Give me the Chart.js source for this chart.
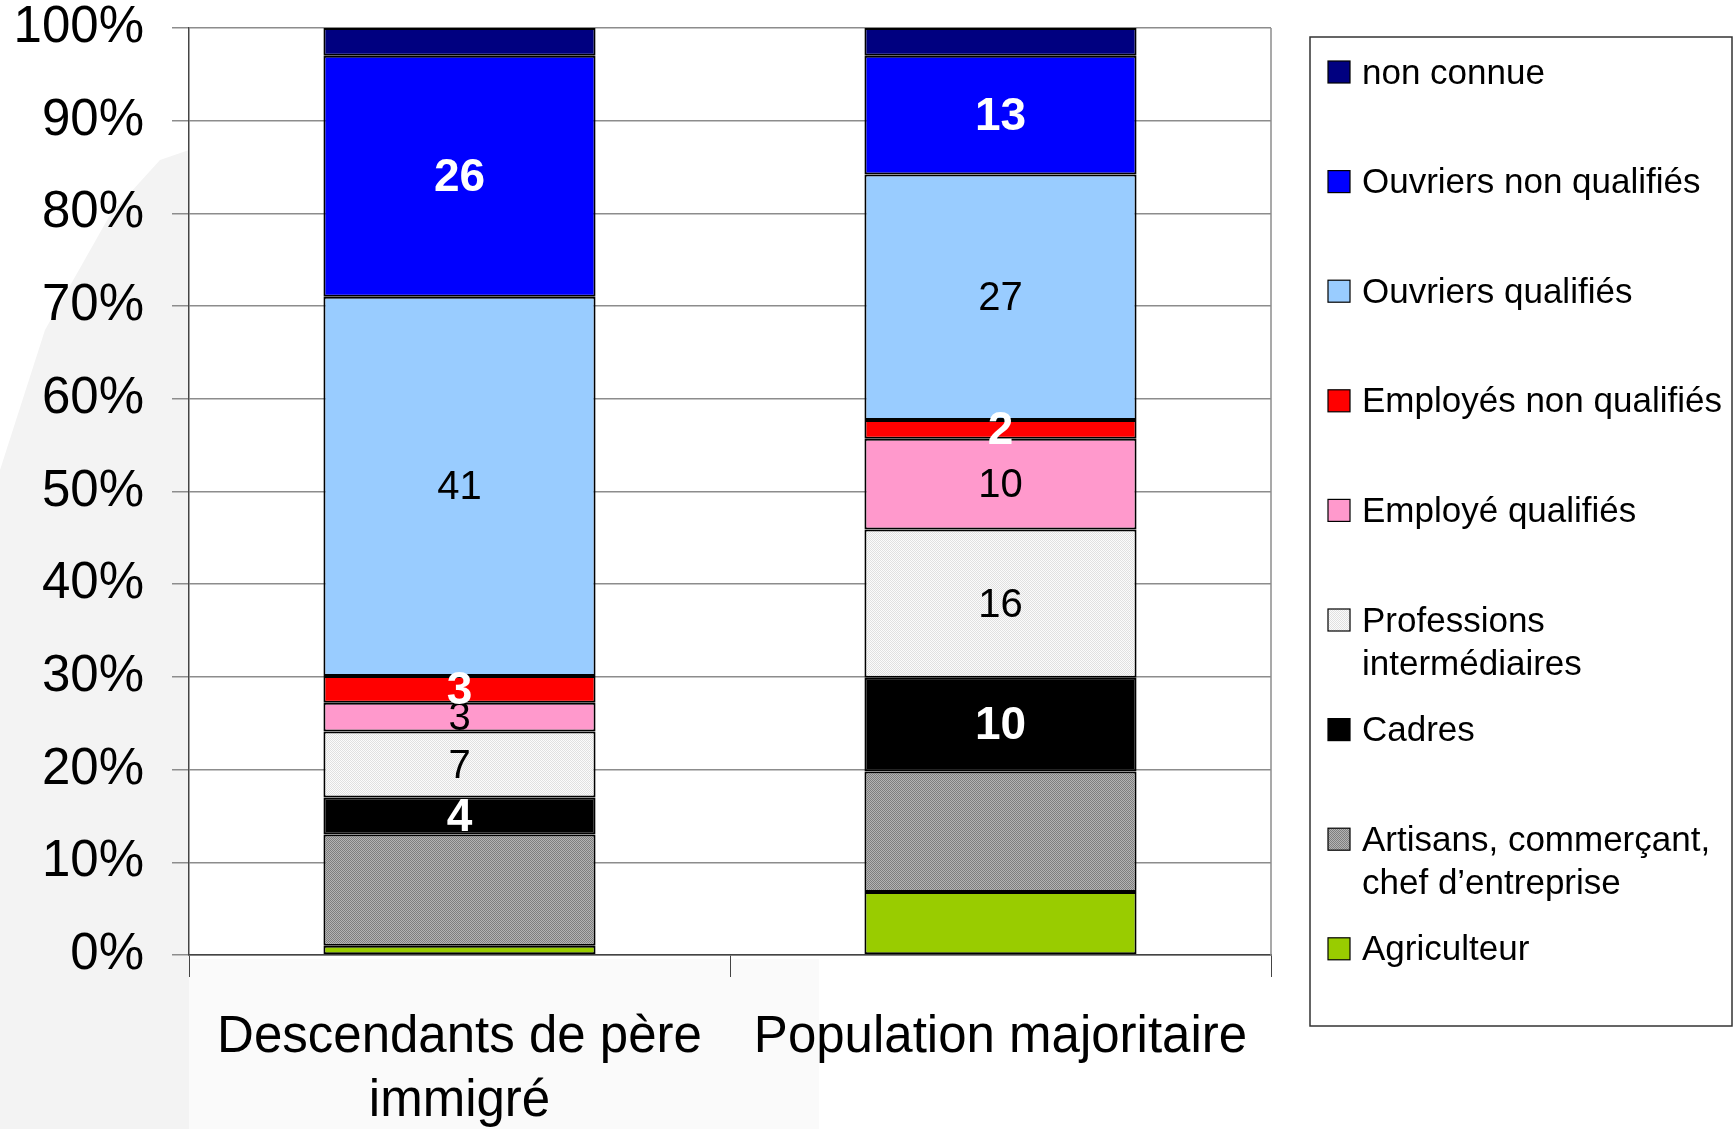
<!DOCTYPE html>
<html lang="fr">
<head>
<meta charset="utf-8">
<title>Catégorie socioprofessionnelle</title>
<script src="https://cdn.jsdelivr.net/npm/chart.js@4.4.1/dist/chart.umd.min.js"></script>
<style>
    html, body { margin: 0; padding: 0; background: #fff; }
    #wrap { position: relative; width: 1736px; height: 1129px; }
</style>
</head>
<body>
<div id="wrap"><canvas id="chart" width="1736" height="1129"></canvas></div>
<script>
// categories on the x axis
const categories = [['Descendants de père', 'immigré'], 'Population majoritaire'];

// series, bottom of the stack first
const seriesNames = [
    'Agriculteur',
    ['Artisans, commerçant,', 'chef d’entreprise'],
    'Cadres',
    ['Professions', 'intermédiaires'],
    'Employé qualifiés',
    'Employés non qualifiés',
    'Ouvriers qualifiés',
    'Ouvriers non qualifiés',
    'non connue'
];

// shares in %, [Descendants de père immigré, Population majoritaire]
const agriculteur = [1.0, 6.8];
const artisans = [12.0, 13.0];
const cadres = [4.0, 10.1];
const professionsInter = [7.1, 16.0];
const employesQualifies = [3.1, 9.8];
const employesNonQualifies = [2.9, 2.0];
const ouvriersQualifies = [40.9, 26.5];
const ouvriersNonQualifies = [26.0, 12.8];
const nonConnue = [3.0, 3.0];

const yTickStep = 10;
const yMax = 100;

const FONT = '"Liberation Sans", Arial, Helvetica, sans-serif';

function makePattern(base, dot) {
    const c = document.createElement('canvas');
    c.width = 2;
    c.height = 2;
    const ctx = c.getContext('2d');
    ctx.fillStyle = base;
    ctx.fillRect(0, 0, 2, 2);
    ctx.fillStyle = dot;
    ctx.fillRect(0, 0, 1, 1);
    ctx.fillRect(1, 1, 1, 1);
    return ctx.createPattern(c, 'repeat');
}

const seriesValues = [agriculteur, artisans, cadres, professionsInter, employesQualifies,
    employesNonQualifies, ouvriersQualifies, ouvriersNonQualifies, nonConnue];

const seriesColors = [
    '#99cc00',
    makePattern('#b4b4b4', '#7e7e7e'),
    '#000000',
    makePattern('#fbfbfb', '#e0e0e0'),
    '#ff99cc',
    '#ff0000',
    '#99ccff',
    '#0000ff',
    '#000080'
];

// how the value labels look: null = no label
const labelStyles = [null, null, 'bold', 'normal', 'normal', 'bold', 'normal', 'bold', null];

const datasets = seriesNames.map(function (name, i) {
    return {
        label: name,
        data: seriesValues[i],
        backgroundColor: seriesColors[i],
        borderColor: '#000',
        borderWidth: 2,
        borderSkipped: false,
        labelStyle: labelStyles[i]
    };
});

// faint slide background behind the axes
const backdrop = {
    id: 'backdrop',
    beforeDraw(chart) {
        const ctx = chart.ctx;
        const a = chart.chartArea;
        ctx.save();
        ctx.fillStyle = '#fafafa';
        ctx.fillRect(a.left, a.bottom + 4, 630, chart.height - a.bottom);
        ctx.fillStyle = '#f3f3f3';
        ctx.beginPath();
        ctx.moveTo(a.left, 150);
        ctx.lineTo(a.left, chart.height);
        ctx.lineTo(0, chart.height);
        ctx.lineTo(0, 470);
        ctx.lineTo(45, 330);
        ctx.lineTo(110, 215);
        ctx.lineTo(160, 160);
        ctx.closePath();
        ctx.fill();
        ctx.restore();
    }
};

const valueLabels = {
    id: 'valueLabels',
    afterDatasetsDraw(chart) {
        const ctx = chart.ctx;
        ctx.save();
        ctx.textAlign = 'center';
        ctx.textBaseline = 'middle';
        chart.data.datasets.forEach(function (ds, i) {
            if (!ds.labelStyle) return;
            const meta = chart.getDatasetMeta(i);
            meta.data.forEach(function (bar, j) {
                const y = (bar.y + bar.base) / 2;
                if (ds.labelStyle === 'bold') {
                    ctx.font = 'bold 46px ' + FONT;
                    ctx.fillStyle = '#fff';
                } else {
                    ctx.font = '40px ' + FONT;
                    ctx.fillStyle = '#000';
                }
                ctx.fillText(Math.round(ds.data[j]), bar.x, y + 2);
            });
        });
        ctx.restore();
    }
};

const plotFrame = {
    id: 'plotFrame',
    beforeDatasetsDraw(chart) {
        const a = chart.chartArea;
        const ctx = chart.ctx;
        ctx.save();
        ctx.strokeStyle = '#8c8c8c';
        ctx.lineWidth = 1.5;
        ctx.beginPath();
        ctx.moveTo(a.right, a.top);
        ctx.lineTo(a.right, a.bottom);
        ctx.stroke();
        ctx.restore();
    }
};

const sideLegend = {
    id: 'sideLegend',
    afterDraw(chart) {
        const ctx = chart.ctx;
        ctx.save();
        ctx.strokeStyle = '#333';
        ctx.lineWidth = 1.5;
        ctx.strokeRect(1310, 37, 422, 989);
        ctx.font = '35px ' + FONT;
        ctx.textAlign = 'left';
        ctx.textBaseline = 'middle';
        const ds = chart.data.datasets.slice().reverse();
        ds.forEach(function (d, i) {
            const y = 72 + i * 109.6;
            ctx.fillStyle = d.backgroundColor;
            ctx.fillRect(1328, y - 11, 22, 22);
            ctx.strokeStyle = '#000';
            ctx.lineWidth = 1.2;
            ctx.strokeRect(1328, y - 11, 22, 22);
            ctx.fillStyle = '#000';
            const lines = Array.isArray(d.label) ? d.label : [d.label];
            lines.forEach(function (t, k) {
                ctx.fillText(t, 1362, y + 2 + k * 43);
            });
        });
        ctx.restore();
    }
};

new Chart(document.getElementById('chart'), {
    type: 'bar',
    data: {
        labels: categories,
        datasets: datasets
    },
    options: {
        responsive: false,
        animation: false,
        devicePixelRatio: 1,
        layout: {
            padding: { left: 13, right: 465, top: 28, bottom: 0 }
        },
        plugins: {
            legend: { display: false },
            tooltip: { enabled: false }
        },
        datasets: {
            bar: { categoryPercentage: 1, barPercentage: 0.503 }
        },
        scales: {
            x: {
                stacked: true,
                afterFit: function (scale) {
                    scale.height = 174;
                    scale.paddingLeft = 0;
                    scale.paddingRight = 0;
                },
                grid: {
                    offset: true,
                    drawOnChartArea: false,
                    drawTicks: true,
                    tickLength: 22,
                    color: '#444'
                },
                border: { color: '#444', width: 1.5 },
                ticks: {
                    color: '#000',
                    padding: 29,
                    font: { family: FONT, size: 51, lineHeight: 1.255 }
                }
            },
            y: {
                stacked: true,
                min: 0,
                max: yMax,
                afterFit: function (scale) {
                    scale.width = 176;
                    scale.paddingTop = 0;
                    scale.paddingBottom = 0;
                },
                ticks: {
                    stepSize: yTickStep,
                    color: '#000',
                    padding: 28,
                    font: { family: FONT, size: 51, lineHeight: 1 },
                    callback: function (v) { return v + '%'; }
                },
                grid: {
                    color: '#8c8c8c',
                    lineWidth: 1.5,
                    tickLength: 17
                },
                border: { color: '#444', width: 1.5 }
            }
        }
    },
    plugins: [backdrop, plotFrame, valueLabels, sideLegend]
});
</script>
</body>
</html>
